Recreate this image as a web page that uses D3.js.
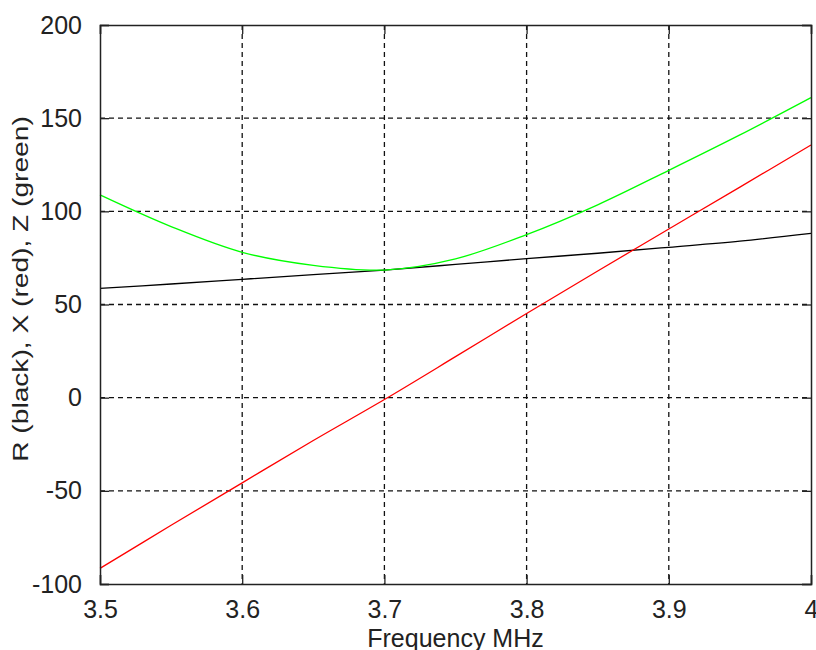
<!DOCTYPE html>
<html>
<head>
<meta charset="utf-8">
<script src="https://cdn.jsdelivr.net/npm/d3@7"></script>
<style>
  body { margin: 0; background: #fff; }
  svg text { font-family: "Liberation Sans", Arial, sans-serif; fill: #222; }
</style>
</head>
<body>
<svg id="chart"></svg>
<script>
// values
const freq = [3.5, 3.55, 3.6, 3.65, 3.7, 3.75, 3.8, 3.85, 3.9, 3.95, 4.0];
const rBlack = [58.7, 61, 63.5, 66, 68.5, 71.5, 74.6, 77.5, 80.7, 84, 88.2];
const xRed = [-91.6, -68.5, -45.7, -23, -1, 22, 45.2, 68, 90.5, 113, 135.6];
const zGreen = [108.8, 91.8, 78, 71, 68.5, 74.5, 87.5, 103.5, 122, 141, 161];

const xTicks = [3.5, 3.6, 3.7, 3.8, 3.9, 4];
const yTicks = [-100, -50, 0, 50, 100, 150, 200];

const width = 816;
const height = 650;
const margin = { top: 25, right: 5, bottom: 66, left: 100 };

const svg = d3.select('#chart')
  .attr('width', width)
  .attr('height', height);

const x = d3.scaleLinear()
  .domain([3.5, 4])
  .range([margin.left, width - margin.right]);

const y = d3.scaleLinear()
  .domain([-100, 200])
  .range([height - margin.bottom, margin.top]);

const inner = svg.append('g');

// dashed grid
inner.append('g')
  .selectAll('line')
  .data(xTicks.slice(1, -1))
  .enter()
  .append('line')
  .attr('x1', (d) => x(d)).attr('x2', (d) => x(d))
  .attr('y1', y(200)).attr('y2', y(-100))
  .attr('stroke', '#111')
  .attr('stroke-width', 1.3)
  .attr('stroke-dasharray', '5,4');

inner.append('g')
  .selectAll('line')
  .data(yTicks.slice(1, -1))
  .enter()
  .append('line')
  .attr('x1', x(3.5)).attr('x2', x(4))
  .attr('y1', (d) => y(d)).attr('y2', (d) => y(d))
  .attr('stroke', '#111')
  .attr('stroke-width', 1.3)
  .attr('stroke-dasharray', '5,4');

const line = (vals) => d3.line()
  .x((d, i) => x(freq[i]))
  .y((d) => y(d))
  .curve(d3.curveCatmullRom)(vals);

const series = [
  { vals: rBlack, color: '#000000' },
  { vals: xRed, color: '#ff0000' },
  { vals: zGreen, color: '#00ff00' }
];

inner.append('g')
  .selectAll('path')
  .data(series)
  .enter()
  .append('path')
  .attr('d', (d) => line(d.vals))
  .attr('fill', 'none')
  .attr('stroke', (d) => d.color)
  .attr('stroke-width', 1.3);

// axes with inward ticks, MATLAB style
const tl = 9;
const plain = (d) => String(d); // hyphen minus like the original
const bottomAxis = d3.axisBottom(x).tickValues(xTicks).tickSize(-tl).tickPadding(16).tickFormat(plain);
const topAxis = d3.axisTop(x).tickValues(xTicks).tickSize(-tl).tickFormat('');
const leftAxis = d3.axisLeft(y).tickValues(yTicks).tickSize(-tl).tickPadding(18).tickFormat(plain);
const rightAxis = d3.axisRight(y).tickValues(yTicks).tickSize(-tl).tickFormat('');

const styleAxis = (g) => {
  g.select('.domain').attr('stroke', '#222').attr('stroke-width', 1.5);
  g.selectAll('.tick line').attr('stroke', '#222').attr('stroke-width', 1.3);
  g.selectAll('.tick text').attr('font-size', 25).attr('fill', '#222');
};

svg.append('g')
  .attr('transform', `translate(0,${y(-100)})`)
  .call(bottomAxis)
  .call(styleAxis);

svg.append('g')
  .attr('transform', `translate(0,${y(200)})`)
  .call(topAxis)
  .call(styleAxis);

svg.append('g')
  .attr('transform', `translate(${x(3.5)},0)`)
  .call(leftAxis)
  .call(styleAxis);

svg.append('g')
  .attr('transform', `translate(${x(4)},0)`)
  .call(rightAxis)
  .call(styleAxis);

svg.selectAll('.domain').attr('fill', 'none');

svg.append('text')
  .attr('x', (x(3.5) + x(4)) / 2)
  .attr('y', 647)
  .attr('text-anchor', 'middle')
  .attr('font-size', 25)
  .text('Frequency MHz');

// the original y label is drawn stretched along its length
svg.append('text')
  .attr('transform', 'translate(28,289) rotate(-90) scale(1.28,1)')
  .attr('text-anchor', 'middle')
  .attr('font-size', 22)
  .text('R (black), X (red), Z (green)');
</script>
</body>
</html>
